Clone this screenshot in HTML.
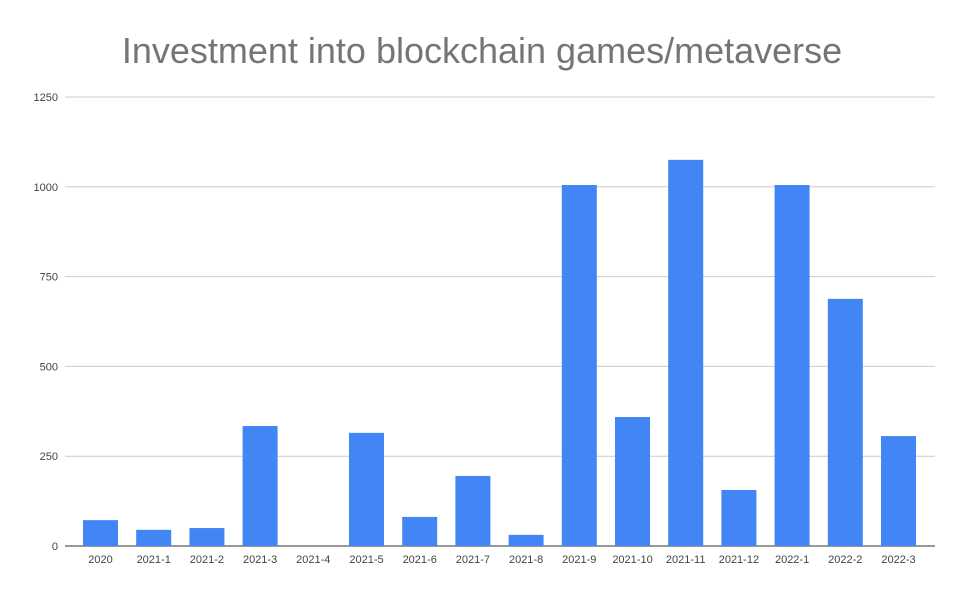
<!DOCTYPE html>
<html><head><meta charset="utf-8"><style>
body{margin:0;background:#fff;font-family:"Liberation Sans",Arial,sans-serif}
svg text{font-family:"Liberation Sans",Arial,sans-serif}
</style></head><body>
<svg id="chart" width="964" height="596" xmlns="http://www.w3.org/2000/svg">
<rect width="964" height="596" fill="#fff"/>
<text x="482" y="63" text-anchor="middle" font-size="36" fill="#757575">Investment into blockchain games/metaverse</text>
<g id="grid"></g><g id="bars"></g><g id="xlabels"></g>
</svg>
<script>
const categories=["2020","2021-1","2021-2","2021-3","2021-4","2021-5","2021-6","2021-7","2021-8","2021-9","2021-10","2021-11","2021-12","2022-1","2022-2","2022-3"];
const values=[72,45,50,334,0,315,81,195,31,1005,359,1075,156,1005,688,306];
const yTicks=[0,250,500,750,1000,1250];
const NS="http://www.w3.org/2000/svg";
const y0=546,yTop=97,yMax=1250,left=73.9,step=53.2,bw=35;
function y(v){return y0-(v/yMax)*(y0-yTop);}
function xc(i){return left+step*(i+0.5);}
const grid=document.getElementById('grid'),bars=document.getElementById('bars'),xl=document.getElementById('xlabels');
yTicks.forEach(t=>{
 const l=document.createElementNS(NS,'line');
 
 
 l.setAttribute('x1',65);l.setAttribute('x2',935);l.setAttribute('y1',y(t));l.setAttribute('y2',y(t));
 l.setAttribute('stroke',t===0?'#333':'#ccc');l.setAttribute('stroke-width',1);
 grid.appendChild(l);
 const tx=document.createElementNS(NS,'text');
 
 
 tx.setAttribute('x',58);tx.setAttribute('y',y(t)+4);tx.setAttribute('text-anchor','end');
 tx.setAttribute('font-size','11');tx.setAttribute('fill','#444');tx.textContent=t;
 grid.appendChild(tx);
});
categories.forEach((c,i)=>{
 const r=document.createElementNS(NS,'rect');
 
 
 r.setAttribute('x',xc(i)-bw/2);r.setAttribute('width',bw);
 r.setAttribute('y',y(values[i]));r.setAttribute('height',y0-y(values[i]));
 r.setAttribute('fill','#4285f4');
 bars.appendChild(r);
 const tx=document.createElementNS(NS,'text');
 
 
 tx.setAttribute('x',xc(i));tx.setAttribute('y',563);tx.setAttribute('text-anchor','middle');
 tx.setAttribute('font-size','11');tx.setAttribute('fill','#444');tx.textContent=c;
 xl.appendChild(tx);
});
</script>
</body></html>
